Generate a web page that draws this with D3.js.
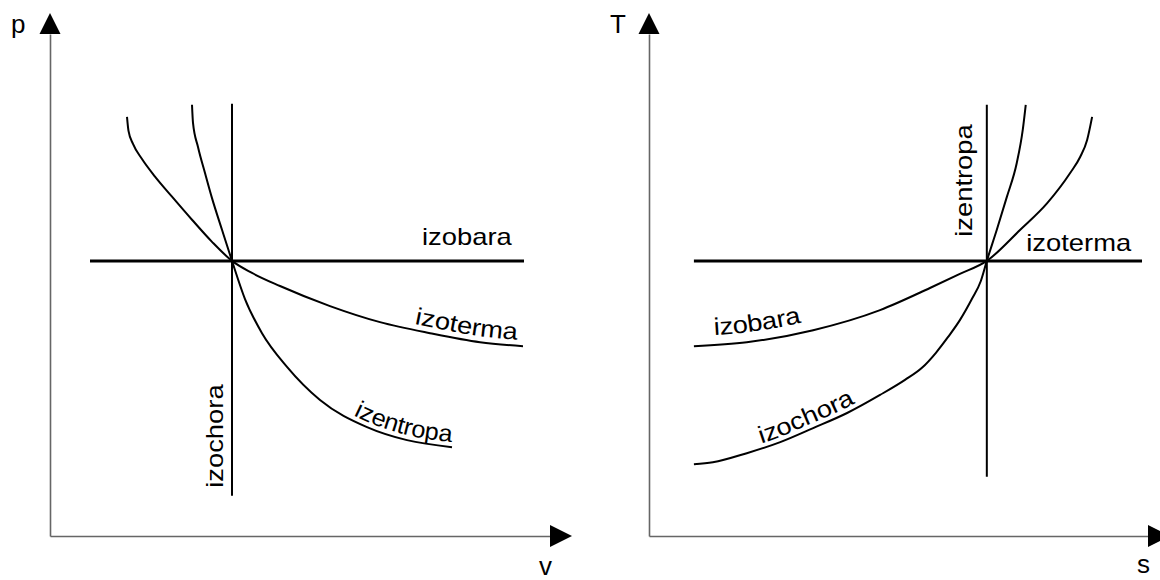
<!DOCTYPE html>
<html>
<head>
<meta charset="utf-8">
<script src="https://cdn.jsdelivr.net/npm/d3@7"></script>
<style>
  html, body { margin: 0; padding: 0; background: #fff; }
  svg { display: block; }
  text { font-family: "Liberation Sans", Arial, Helvetica, sans-serif; fill: #000; }
</style>
</head>
<body>
<script>
// ---- p–v diagram (values in relative units, 0..100 on both axes) ----
const pvIzobara = [[8.0, 54.8], [94.8, 54.8]];
const pvIzochora = [[36.4, 8.0], [36.4, 86.1]];
const pvIzoterma = [
  [15.4, 83.5], [15.7, 80.7], [16.6, 78.1], [18.4, 75.1], [21.0, 71.6],
  [24.4, 67.6], [28.4, 63.0], [32.4, 58.6], [36.4, 54.8], [40.4, 52.4],
  [46.0, 49.8], [56.0, 45.8], [66.0, 42.6], [76.0, 40.4], [86.0, 38.6],
  [94.6, 37.8]
];
const pvIzentropa = [
  [28.4, 85.9], [28.6, 82.3], [29.6, 77.5], [31.0, 72.3], [32.4, 67.3],
  [34.4, 61.0], [36.4, 54.8], [39.0, 47.2], [42.4, 40.4], [47.4, 33.7],
  [54.0, 27.1], [63.4, 21.7], [71.4, 19.1], [80.4, 17.7]
];

// ---- T–s diagram ----
const tsIzoterma = [[9.0, 54.8], [98.8, 54.8]];
const tsIzentropa = [[67.7, 11.8], [67.7, 85.9]];
const tsIzobara = [
  [9.0, 37.8], [19.6, 38.6], [32.9, 41.0], [46.3, 45.0], [56.3, 49.4],
  [62.3, 52.2], [67.7, 54.8], [74.4, 61.0], [79.8, 66.3], [84.4, 72.3],
  [86.4, 75.5], [87.8, 78.9], [88.8, 83.5]
];
const tsIzochora = [
  [9.0, 14.3], [12.8, 14.7], [19.6, 16.5], [26.3, 18.7], [32.9, 21.5],
  [39.7, 24.5], [46.3, 28.1], [51.3, 31.1], [54.7, 33.5], [57.5, 36.5],
  [59.9, 39.6], [62.3, 43.0], [64.7, 47.2], [66.5, 50.8], [67.7, 54.8],
  [69.7, 61.0], [71.7, 67.5], [73.7, 74.3], [74.9, 80.9], [75.5, 85.9]
];

// axis titles: [horizontal, vertical]
const pvAxisTitles = ["v", "p"];
const tsAxisTitles = ["s", "T"];

const W = 1160, H = 580;
const FONT = 24, STRETCH = 1.14;

const svg = d3.select("body").append("svg")
  .attr("width", W).attr("height", H)
  .attr("viewBox", `0 0 ${W} ${H}`);

svg.append("rect").attr("width", W).attr("height", H).attr("fill", "#fff");

// hidden text used to measure natural label widths
const measurer = svg.append("text").attr("font-size", FONT).attr("visibility", "hidden");
function naturalWidth(str) {
  measurer.text(str);
  return measurer.node().getComputedTextLength();
}

let pathCounter = 0;

function drawPanel(xRange, axisTitles, titleDrop) {
  const x = d3.scaleLinear().domain([0, 100]).range(xRange);
  const y = d3.scaleLinear().domain([0, 100]).range([536, 34]);
  const g = svg.append("g");

  // axes without ticks, just the domain lines
  const xAxis = g.append("g").attr("transform", `translate(0,${y(0)})`)
    .call(d3.axisBottom(x).tickValues([]).tickSizeOuter(0));
  const yAxis = g.append("g").attr("transform", `translate(${x(0)},0)`)
    .call(d3.axisLeft(y).tickValues([]).tickSizeOuter(0));
  [xAxis, yAxis].forEach(a => a.select(".domain")
    .attr("stroke", "#666").attr("stroke-width", 1.6));

  // arrowheads at the axis ends
  const ax = x(100), ay = y(0);
  g.append("path")
    .attr("d", `M${ax},${ay - 11}L${ax + 22},${ay}L${ax},${ay + 11}Z`)
    .attr("fill", "#000");
  const bx = x(0), by = y(100);
  g.append("path")
    .attr("d", `M${bx - 10.5},${by}L${bx},${by - 21}L${bx + 10.5},${by}Z`)
    .attr("fill", "#000");

  // axis titles
  g.append("text").attr("x", ax - 11).attr("y", ay + titleDrop)
    .attr("font-size", 26).text(axisTitles[0]);
  g.append("text").attr("x", bx - 39).attr("y", by - 1)
    .attr("font-size", 26).text(axisTitles[1]);

  return { x, y, g };
}

function drawCurve(p, data, width) {
  const line = d3.line()
    .x(d => p.x(d[0])).y(d => p.y(d[1]))
    .curve(d3.curveMonotoneX);
  const id = "curve" + (pathCounter++);
  return p.g.append("path")
    .attr("id", id)
    .attr("d", line(data))
    .attr("fill", "none")
    .attr("stroke", "#000")
    .attr("stroke-width", width)
    .attr("stroke-linecap", "butt");
}

// straight label, widened along its own direction
function straightLabel(p, str, dx, dy, angle) {
  const n = naturalWidth(str);
  p.g.append("text")
    .attr("transform", `translate(${p.x(dx)},${p.y(dy)}) rotate(${angle})`)
    .attr("font-size", FONT)
    .attr("textLength", n * STRETCH)
    .attr("lengthAdjust", "spacingAndGlyphs")
    .text(str);
}

// label that follows a curve, starting where the curve reaches the given x value
function curveLabel(p, curve, str, startX, offset) {
  const node = curve.node();
  const total = node.getTotalLength();
  const px = p.x(startX);
  let L = 0;
  for (; L < total; L += 0.5) {
    if (node.getPointAtLength(L).x >= px) break;
  }
  const n = naturalWidth(str);
  const len = Math.min(n * STRETCH, total - L - 1);
  p.g.append("text")
    .attr("font-size", FONT)
    .attr("dy", offset)
    .append("textPath")
    .attr("href", "#" + curve.attr("id"))
    .attr("startOffset", L)
    .attr("textLength", len)
    .attr("lengthAdjust", "spacingAndGlyphs")
    .text(str);
}

// ---- p–v panel ----
const pv = drawPanel([50, 550], pvAxisTitles, 39);
drawCurve(pv, pvIzobara, 3);
drawCurve(pv, pvIzochora, 2);
const pvTherm = drawCurve(pv, pvIzoterma, 2);
const pvEntr = drawCurve(pv, pvIzentropa, 2);
straightLabel(pv, "izobara", 74.4, 58.0, 0);
straightLabel(pv, "izochora", 34.6, 9.6, -90);
curveLabel(pv, pvTherm, "izoterma", 72.6, -6);
curveLabel(pv, pvEntr, "izentropa", 60.2, -5);

// ---- T–s panel ----
const ts = drawPanel([649, 1148], tsAxisTitles, 37);
drawCurve(ts, tsIzoterma, 3);
drawCurve(ts, tsIzentropa, 2);
const tsBar = drawCurve(ts, tsIzobara, 2);
const tsChor = drawCurve(ts, tsIzochora, 2);
straightLabel(ts, "izoterma", 75.6, 56.8, 0);
straightLabel(ts, "izentropa", 64.8, 59.6, -90);
curveLabel(ts, tsBar, "izobara", 13.2, -10);
curveLabel(ts, tsChor, "izochora", 22.8, -5);

measurer.remove();
</script>
</body>
</html>
